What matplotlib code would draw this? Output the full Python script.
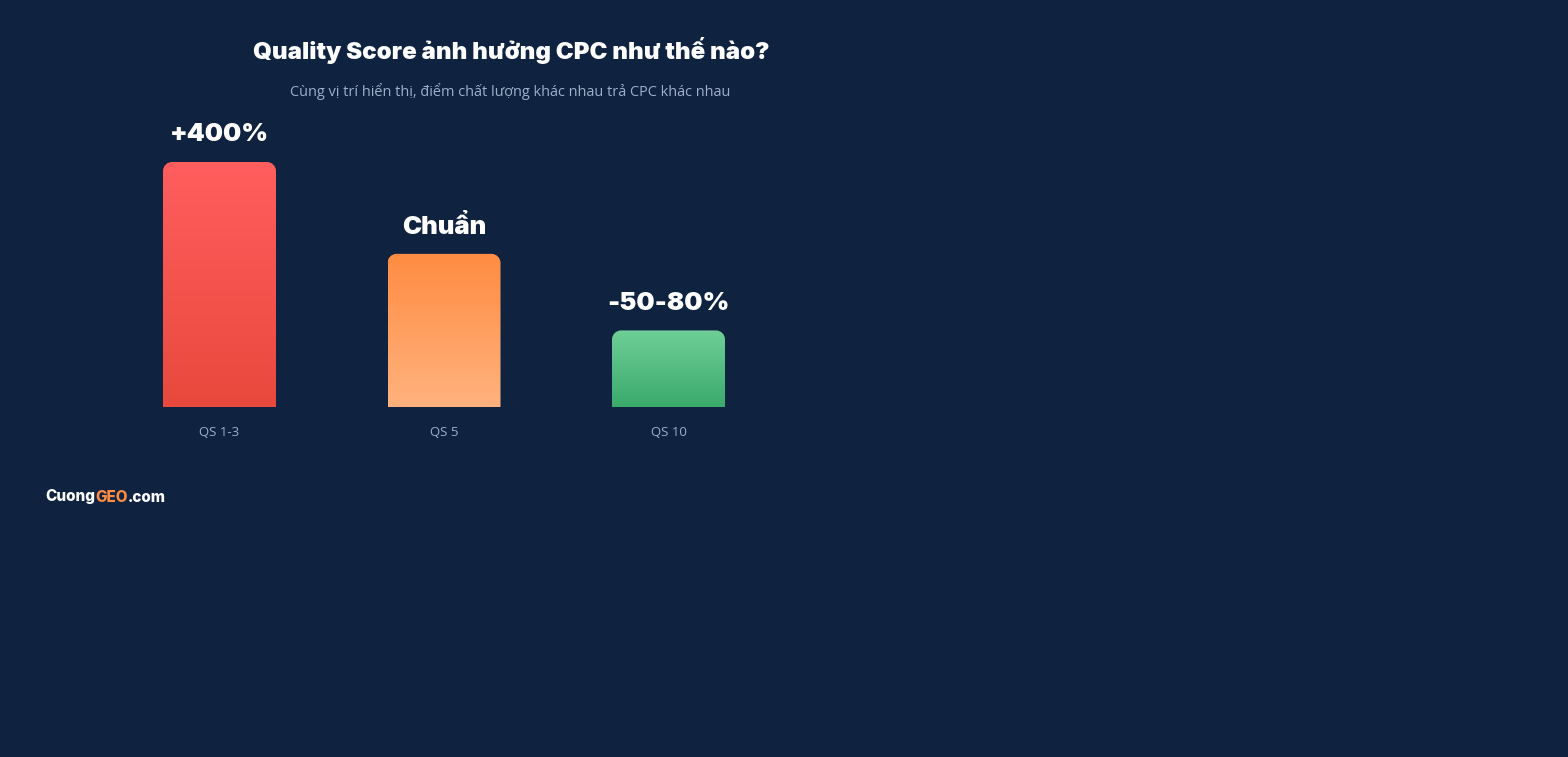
import matplotlib
matplotlib.use("Agg")
import matplotlib.pyplot as plt
import numpy as np
from matplotlib.path import Path
from matplotlib.patches import PathPatch
from matplotlib.colors import LinearSegmentedColormap
from matplotlib.offsetbox import TextArea, HPacker, AnchoredOffsetbox

# ---- data ----
categories = ["QS 1-3", "QS 5", "QS 10"]
values = [80, 50, 25]
value_labels = ["+400%", "Chuẩn", "-50-80%"]
top_colors = ["#ff5e5e", "#ff8c42", "#6fcf97"]
bottom_colors = ["#e8493c", "#ffb27e", "#3aaa6b"]
title = "Quality Score ảnh hưởng CPC như thế nào?"
subtitle = "Cùng vị trí hiển thị, điểm chất lượng khác nhau trả CPC khác nhau"
brand_parts = ["Cuong", "GEO", ".com"]
brand_colors = ["white", "#ff8c42", "white"]

BG = "#0f2341"
HEAVY = ["Inter", "DejaVu Sans"]
REG = ["Open Sans", "DejaVu Sans"]

W, H = 1568, 757
fig = plt.figure(figsize=(W / 100, H / 100), dpi=100, facecolor=BG)
ax = fig.add_axes([107.25 / W, (H - 407) / H, 673.5 / W, 306.25 / H])
ax.set_facecolor(BG)
ax.set_xlim(-0.5, 2.5)
ax.set_ylim(0, 100)
for s in ax.spines.values():
    s.set_visible(False)
ax.set_yticks([])

bar_w = 113 / 224.5
px_x = 1 / 224.5
px_y = 100 / 306.25
r_px = 9
rx, ry = r_px * px_x, r_px * px_y


def top_rounded_path(x0, x1, y1):
    k = 0.5523
    verts = [
        (x0, 0), (x1, 0), (x1, y1 - ry),
        (x1, y1 - ry + k * ry), (x1 - rx + k * rx, y1), (x1 - rx, y1),
        (x0 + rx, y1),
        (x0 + rx - k * rx, y1), (x0, y1 - ry + k * ry), (x0, y1 - ry),
        (x0, 0),
    ]
    codes = [Path.MOVETO, Path.LINETO, Path.LINETO,
             Path.CURVE4, Path.CURVE4, Path.CURVE4,
             Path.LINETO,
             Path.CURVE4, Path.CURVE4, Path.CURVE4,
             Path.CLOSEPOLY]
    return Path(verts, codes)


for i, (v, lab, tc, bc) in enumerate(zip(values, value_labels, top_colors, bottom_colors)):
    x0, x1 = i - bar_w / 2, i + bar_w / 2
    path = top_rounded_path(x0, x1, v)
    patch = PathPatch(path, facecolor="none", edgecolor="none", transform=ax.transData)
    ax.add_patch(patch)
    cmap = LinearSegmentedColormap.from_list(f"g{i}", [bc, tc])
    grad = np.linspace(0, 1, 256).reshape(-1, 1)
    im = ax.imshow(grad, cmap=cmap, extent=(x0, x1, 0, v), origin="lower",
                   aspect="auto", interpolation="bicubic", zorder=2)
    im.set_clip_path(patch)
    ax.annotate(lab, xy=(i, v), xytext=(0, 19.5), textcoords="offset points",
                ha="center", va="center", color="white", fontsize=18.5,
                fontweight=900, family=HEAVY, zorder=3)

ax.set_xticks(range(len(categories)))
ax.set_xticklabels(categories, family=REG, fontsize=9.5, color="#9db0c8")
ax.tick_params(axis="x", length=0, pad=14)

fig.text(511 / W, 1 - 51 / H, title, ha="center", va="center", color="white",
         fontsize=17.3, fontweight=900, family=HEAVY)
fig.text(510 / W, 1 - 91 / H, subtitle, ha="center", va="center", color="#9db0c8",
         fontsize=10.45, family=REG)

boxes = [TextArea(s, textprops=dict(color=c, fontsize=11, fontweight=800, family=HEAVY))
         for s, c in zip(brand_parts, brand_colors)]
pack = HPacker(children=boxes, align="baseline", pad=0, sep=0)
anch = AnchoredOffsetbox(loc="center left", child=pack, pad=0, borderpad=0, frameon=False,
                         bbox_to_anchor=(45 / W, 1 - 497 / H), bbox_transform=fig.transFigure)
fig.add_artist(anch)

fig.savefig("out.png", dpi=100, facecolor=BG)
